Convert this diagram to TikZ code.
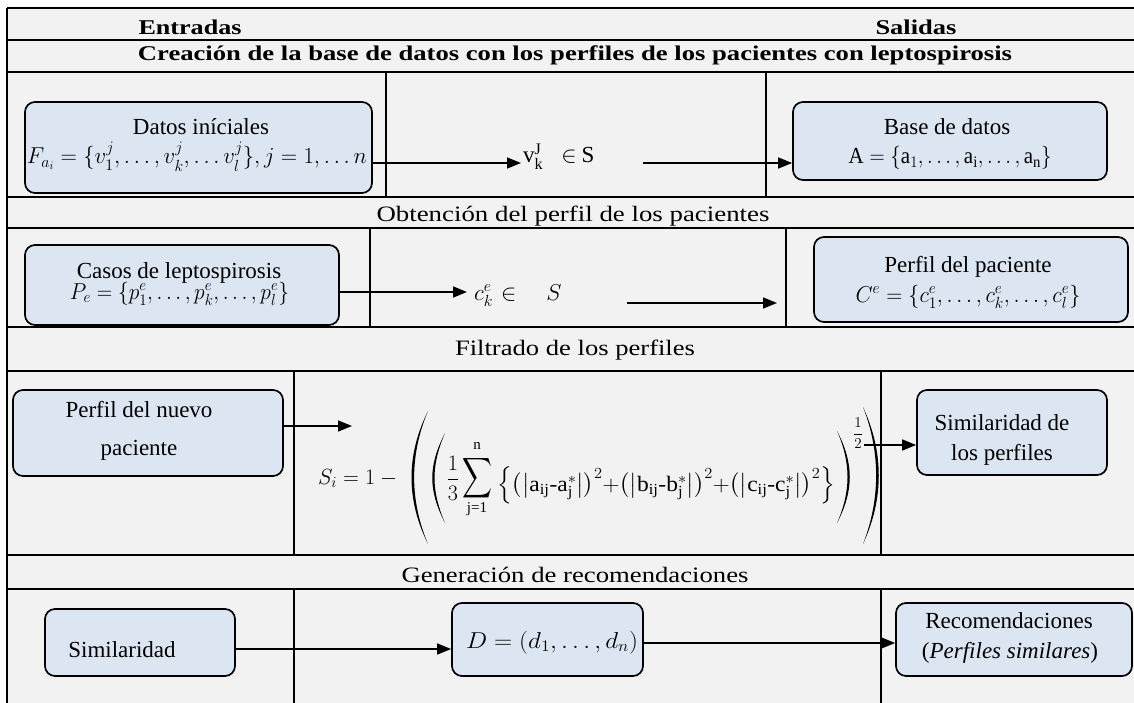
\RequirePackage{fix-cm}
\documentclass[tikz,border=0pt]{standalone}
\usepackage{amsmath}
\usepackage{graphicx}
\usepackage{fontspec}
\setmainfont{Liberation Serif}
\usetikzlibrary{arrows.meta}
\definecolor{bgc}{HTML}{F2F2F2}
\definecolor{boxc}{HTML}{DCE6F2}
\tikzset{
  tline/.style={draw=black, line width=1.4pt},
  bx/.style={draw=black, line width=1.7pt, rounded corners=10pt, fill=boxc, inner sep=0pt},
  txt/.style={font=\fontsize{23}{27}\selectfont, inner sep=0pt, anchor=base},
  mth/.style={font=\fontsize{23}{27}\selectfont, inner sep=0pt, anchor=base},
  fml/.style={font=\fontsize{22}{26}\selectfont, inner sep=0pt},
  lim/.style={font=\fontsize{15}{18}\selectfont, inner sep=0pt},
  hdr/.style={font=\fontsize{22}{26}\selectfont, inner sep=0pt, anchor=base},
  bhdr/.style={font=\fontsize{21}{25}\selectfont\bfseries, inner sep=0pt, anchor=base},
  arr/.style={line width=1.5pt, -{Triangle[length=14pt,width=11pt]}},
  paren/.style={fill=black}
}
\begin{document}
\begin{tikzpicture}[x=1pt,y=-1pt]
\useasboundingbox (0,0) rectangle (1134,703);
\fill[white] (0,0) rectangle (1134,703);
\fill[bgc] (7,8) rectangle (1134,703);
% table lines
\foreach \yy in {8,40,72,197,228,327,371,555,589} \draw[tline] (7,\yy) -- (1134,\yy);
\draw[tline] (7,8) -- (7,703);
\draw[tline] (386,72) -- (386,197);
\draw[tline] (766,72) -- (766,197);
\draw[tline] (370,228) -- (370,327);
\draw[tline] (786,228) -- (786,327);
\draw[tline] (294,371) -- (294,555);
\draw[tline] (881,371) -- (881,555);
\draw[tline] (294,589) -- (294,703);
\draw[tline] (881,589) -- (881,703);
% headers
\node[bhdr] (hent) at (190,35) {\resizebox{103pt}{\height}{Entradas}};
\node[bhdr] (hsal) at (916,35) {\resizebox{81pt}{\height}{Salidas}};
\node[bhdr] (h1) at (575,61) {\resizebox{874pt}{\height}{Creación de la base de datos con los perfiles de los pacientes con leptospirosis}};
\node[hdr] (h2) at (573,222) {\resizebox{393pt}{\height}{Obtención del perfil de los pacientes}};
\node[hdr] (h3) at (575,355) {\resizebox{240pt}{\height}{Filtrado de los perfiles}};
\node[hdr] (h4) at (575,582) {\resizebox{347pt}{\height}{Generación de recomendaciones}};
% boxes
\node[bx, minimum width=347pt, minimum height=91pt] (b1) at (198.5,147.5) {};
\node[bx, minimum width=314pt, minimum height=78pt] (b2) at (950,141) {};
\node[bx, minimum width=314pt, minimum height=80pt] (b3) at (182,285) {};
\node[bx, minimum width=314pt, minimum height=85pt] (b4) at (971,279.5) {};
\node[bx, minimum width=270pt, minimum height=86pt] (b5) at (148,433) {};
\node[bx, minimum width=190pt, minimum height=85pt] (b6) at (1012,432.5) {};
\node[bx, minimum width=190pt, minimum height=67pt] (b7) at (140,642.5) {};
\node[bx, minimum width=191pt, minimum height=73pt] (b8) at (547.5,639.5) {};
\node[bx, minimum width=236pt, minimum height=73pt] (b9) at (1014,639.5) {};
% box texts
\node[txt] (t1a) at (201,135) {Datos iníciales};
\node[mth] (t1b) at (197,164) {\resizebox{340pt}{\height}{$F_{a_i}=\{v_1^{j},\ldots,v_k^{j},\ldots v_l^{j}\},j=1,\ldots n$}};
\node[txt] (t2a) at (947,135) {Base de datos};
\node[mth] (t2b) at (950,164) {\resizebox{203pt}{\height}{$\mathrm{A}=\{\mathrm{a}_1,\ldots,\mathrm{a}_{\mathrm{i}},\ldots,\mathrm{a}_{\mathrm{n}}\}$}};
\node[mth, anchor=base west] (vl) at (523,163) {$\mathrm{v}_{\mathrm{k}}^{\mathrm{J}}\hspace{18pt}{\in}\hspace{5pt}\mathrm{S}$};
\node[txt] (t3a) at (179,278) {Casos de leptospirosis};
\node[mth] (t3b) at (179.5,299) {\resizebox{219pt}{\height}{$P_e=\{p_1^e,\ldots,p_k^e,\ldots,p_l^e\}$}};
\node[mth, anchor=base west] (cl) at (474,300) {$c_k^e\hspace{8pt}{\in}\hspace{30pt}S$};
\node[txt] (t4a) at (968,272) {Perfil del paciente};
\node[mth] (t4b) at (968,302) {\resizebox{225pt}{\height}{$C^e=\{c_1^e,\ldots,c_k^e,\ldots,c_l^e\}$}};
\node[txt] (t5a) at (139,417) {Perfil del nuevo};
\node[txt] (t5b) at (139,455) {paciente};
% formula, built from pieces
\node[fml, anchor=base west] (fs) at (318,484) {$S_i=1-{}$};
\fill[paren] (428,411) .. controls (406,455) and (406,500) .. (428,544) .. controls (409.5,500) and (409.5,455) .. (428,411) -- cycle;
\fill[paren] (445,433) .. controls (428,466) and (428,490) .. (445,523) .. controls (431,490) and (431,466) .. (445,433) -- cycle;
\node[fml, anchor=center] (fthird) at (453,478) {$\dfrac{1}{3}$};
\node[fml, anchor=center] (fsum) at (477,478) {\resizebox*{30pt}{45pt}{$\displaystyle\sum$}};
\node[lim, anchor=center] (fsumn) at (477,446) {n};
\node[lim, anchor=center] (fsumj) at (477,509) {j=1};
\node[fml, anchor=base west] (fbody) at (497,491) {\resizebox{338pt}{\height}{$\Big\{\bigl(\bigl|\mathrm{a}_{\mathrm{ij}}\text{-}\mathrm{a}_{\mathrm{j}}^{*}\bigr|\bigr)^{2}{+}\bigl(\bigl|\mathrm{b}_{\mathrm{ij}}\text{-}\mathrm{b}_{\mathrm{j}}^{*}\bigr|\bigr)^{2}{+}\bigl(\bigl|\mathrm{c}_{\mathrm{ij}}\text{-}\mathrm{c}_{\mathrm{j}}^{*}\bigr|\bigr)^{2}\Big\}$}};
\fill[paren] (837,431) .. controls (854,463) and (854,491) .. (837,523) .. controls (851,491) and (851,463) .. (837,431) -- cycle;
\node[lim, anchor=center] (fhalf) at (858,433) {$\dfrac{1}{2}$};
\fill[paren] (863,407) .. controls (884,452) and (884,499) .. (863,544) .. controls (880.5,499) and (880.5,452) .. (863,407) -- cycle;
\node[txt] (t6a) at (1002,430) {Similaridad de};
\node[txt] (t6b) at (1002,460) {los perfiles};
\node[txt] (t7) at (122,657) {Similaridad};
\node[mth] (t8) at (552,648) {\resizebox{172pt}{\height}{$D=(d_1,\ldots,d_n)$}};
\node[txt] (t9a) at (1009,628) {Recomendaciones};
\node[txt] (t9b) at (1010,658) {(\textit{Perfiles similares})};
% arrow coordinates
\coordinate (a1t) at (521,163);
\coordinate (a2s) at (643,163);
\coordinate (a3t) at (467,292);
\coordinate (a4s) at (627,303);
\coordinate (a4t) at (777,303);
\coordinate (a5t) at (352,426);
\coordinate (a6s) at (864,445);
\coordinate (a7) at (0,649);
\coordinate (a8) at (0,643);
% arrows
\draw[arr] (b1.east |- a1t) -- (a1t);
\draw[arr] (a2s) -- (b2.west |- a2s);
\draw[arr] (b3.east |- a3t) -- (a3t);
\draw[arr] (a4s) -- (a4t);
\draw[arr] (b5.east |- a5t) -- (a5t);
\draw[arr] (a6s) -- (b6.west |- a6s);
\draw[arr] (b7.east |- a7) -- (b8.west |- a7);
\draw[arr] (b8.east |- a8) -- (b9.west |- a8);
\end{tikzpicture}
\end{document}
